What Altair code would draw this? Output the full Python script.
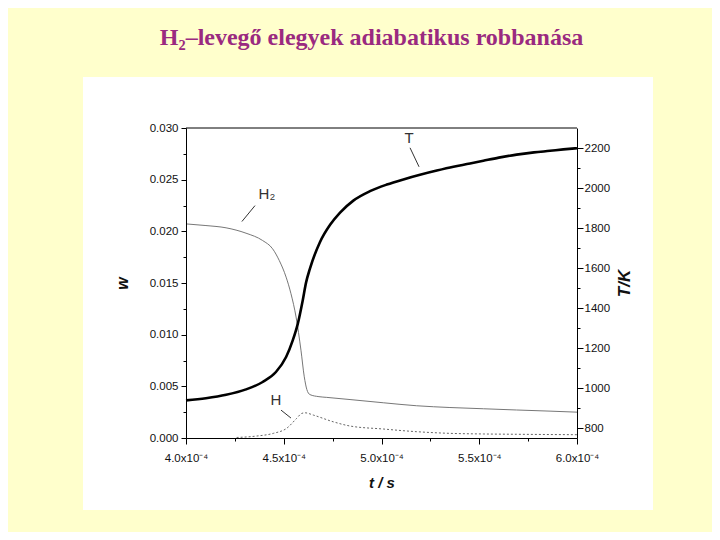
import altair as alt
import pandas as pd

# ---- data (t in units of 1e-4 s) ----
t_T = [4.000, 4.102, 4.205, 4.307, 4.392, 4.460, 4.512, 4.546, 4.572, 4.597, 4.614, 4.634,
       4.685, 4.737, 4.788, 4.856, 4.941, 5.027, 5.112, 5.197, 5.283, 5.368, 5.453, 5.521,
       5.600, 5.691, 5.780, 5.862, 5.930, 6.000]
T_K = [938, 949, 966, 993, 1030, 1080, 1155, 1238, 1322, 1438, 1527, 1597,
       1729, 1816, 1877, 1937, 1984, 2017, 2043, 2066, 2087, 2106, 2122, 2136,
       2152, 2167, 2178, 2186, 2193, 2199]

t_H2 = [4.000, 4.102, 4.205, 4.307, 4.392, 4.443, 4.477, 4.512, 4.537, 4.563, 4.588, 4.605,
        4.618, 4.634, 4.680, 4.720, 4.839, 5.009, 5.180, 5.350, 5.521, 5.691, 5.862, 6.000]
w_H2 = [0.02072, 0.02056, 0.02034, 0.01982, 0.01911, 0.01831, 0.01718, 0.01557, 0.01396,
        0.01171, 0.00850, 0.00592, 0.00470, 0.00420, 0.00400, 0.00393, 0.00372, 0.00341,
        0.00312, 0.00295, 0.00283, 0.00271, 0.00260, 0.00250]

t_H = [4.259, 4.362, 4.447, 4.515, 4.566, 4.592, 4.609, 4.651, 4.753, 4.839, 5.009, 5.180,
       5.350, 5.521, 5.691, 6.000]
w_H = [0.00005, 0.00019, 0.00045, 0.00094, 0.00190, 0.00238, 0.00244, 0.00222, 0.00157,
       0.00116, 0.00087, 0.00061, 0.00045, 0.00039, 0.00036, 0.00032]

# annotations
lab_w_text = ["H₂", "H"]
lab_w_t = [4.414, 4.460]
lab_w_w = [0.02365, 0.00367]
arr_w_t1 = [4.353, 4.486]
arr_w_w1 = [0.02249, 0.00270]
arr_w_t2 = [4.286, 4.537]
arr_w_w2 = [0.02095, 0.00193]

lab_T_text = ["T"]
lab_T_t = [5.141]
lab_T_T = [2251]
arr_T_t1 = [5.146]
arr_T_T1 = [2201]
arr_T_t2 = [5.192]
arr_T_T2 = [2106]

x_ticks = [4.0 + 0.25 * i for i in range(9)]
w_ticks = [0.0025 * i for i in range(13)]
T_ticks = list(range(800, 2201, 100))

TITLE = "H₂–levegő elegyek adiabatikus robbanása"
FONT = "Liberation Sans"

df_T = pd.DataFrame({"t": t_T, "T": T_K})
df_H2 = pd.DataFrame({"t": t_H2, "w": w_H2})
df_H = pd.DataFrame({"t": t_H, "w": w_H})
df_lw = pd.DataFrame({"t": lab_w_t, "w": lab_w_w, "txt": lab_w_text})
df_aw = pd.DataFrame({"t": arr_w_t1, "w": arr_w_w1, "t2": arr_w_t2, "w2": arr_w_w2})
df_lT = pd.DataFrame({"t": lab_T_t, "T": lab_T_T, "txt": lab_T_text})
df_aT = pd.DataFrame({"t": arr_T_t1, "T": arr_T_T1, "t2": arr_T_t2, "T2": arr_T_T2})

x_axis = alt.Axis(
    values=x_ticks,
    labelExpr="(datum.value*4) % 2 == 0 ? format(datum.value, '.1f') + 'x10⁻⁴' : ''",
    tickSize={"condition": {"test": "(datum.value*4) % 2 == 1", "value": 3}, "value": 6},
    labelFont=FONT, labelFontSize=11.5, labelColor="#111", labelPadding=8,
    title="t / s", titleFont=FONT, titleFontSize=15, titleFontStyle="italic",
    titleFontWeight="bold", titleColor="#111", titlePadding=12,
    domainColor="black", tickColor="black", grid=False, labelFlush=False, zindex=2,
)
x_enc = alt.X("t:Q", scale=alt.Scale(domain=[4.0, 6.0], nice=False, zero=False), axis=x_axis)

w_axis = alt.Axis(
    values=w_ticks,
    labelExpr="round(datum.value*400) % 2 == 0 ? format(datum.value, '.3f') : ''",
    tickSize={"condition": {"test": "round(datum.value*400) % 2 == 1", "value": 3}, "value": 5},
    labelFont=FONT, labelFontSize=11.5, labelColor="#111", labelPadding=3,
    title="w", titleFont=FONT, titleFontSize=16, titleFontStyle="italic",
    titleFontWeight="bold", titleColor="#111", titlePadding=19, titleAngle=270,
    domainColor="black", tickColor="black", grid=False, orient="left", zindex=2,
)
w_scale = alt.Scale(domain=[0.0, 0.030], nice=False, zero=False)

T_axis = alt.Axis(
    values=T_ticks,
    labelExpr="datum.value % 200 == 0 ? format(datum.value, 'd') : ''",
    tickSize={"condition": {"test": "datum.value % 200 != 0", "value": 3}, "value": 6},
    labelFont=FONT, labelFontSize=11.5, labelColor="#111", labelPadding=1,
    title="T/K", titleFont=FONT, titleFontSize=17, titleFontStyle="italic",
    titleFontWeight="bold", titleColor="#111", titlePadding=24, titleAngle=270,
    domainColor="black", tickColor="black", grid=False, orient="right", zindex=2,
)
T_scale = alt.Scale(domain=[750, 2300], nice=False, zero=False)

one = pd.DataFrame({"a": [0]})
panel = alt.Chart(one).mark_rect(color="white").encode(
    x=alt.value(-103), x2=alt.value(467), y=alt.value(-51), y2=alt.value(382)
)
top_border = alt.Chart(one).mark_rule(color="black", strokeWidth=1).encode(
    x=alt.value(0), x2=alt.value(391), y=alt.value(0)
)

h2_line = alt.Chart(df_H2).mark_line(color="#777777", strokeWidth=1, interpolate="monotone").encode(
    x=x_enc, y=alt.Y("w:Q", scale=w_scale, axis=w_axis)
)
h_line = alt.Chart(df_H).mark_line(color="#666666", strokeWidth=1, strokeDash=[2, 2],
                                   interpolate="monotone").encode(
    x=x_enc, y=alt.Y("w:Q", scale=w_scale, axis=w_axis)
)
w_text = alt.Chart(df_lw).mark_text(font=FONT, fontSize=15, color="#333333").encode(
    x=x_enc, y=alt.Y("w:Q", scale=w_scale, axis=w_axis), text="txt:N"
)
w_arrow = alt.Chart(df_aw).mark_rule(color="#333333", strokeWidth=1).encode(
    x=x_enc, y=alt.Y("w:Q", scale=w_scale, axis=w_axis), x2="t2:Q", y2="w2:Q"
)
left = alt.layer(h2_line, h_line, w_arrow, w_text)

T_line = alt.Chart(df_T).mark_line(color="black", strokeWidth=2.6, interpolate="monotone").encode(
    x=x_enc, y=alt.Y("T:Q", scale=T_scale, axis=T_axis)
)
T_text = alt.Chart(df_lT).mark_text(font=FONT, fontSize=15, color="#333333").encode(
    x=x_enc, y=alt.Y("T:Q", scale=T_scale, axis=T_axis), text="txt:N"
)
T_arrow = alt.Chart(df_aT).mark_rule(color="#333333", strokeWidth=1).encode(
    x=x_enc, y=alt.Y("T:Q", scale=T_scale, axis=T_axis), x2="t2:Q", y2="T2:Q"
)
right = alt.layer(T_line, T_arrow, T_text)

chart = alt.layer(panel, top_border, left, right).resolve_scale(y="independent").properties(
    width=391, height=310,
    autosize=alt.AutoSizeParams(type="none"),
    padding={"left": 178, "top": 120, "right": 135, "bottom": 94},
    background="#FFFFCC",
    title=alt.Title(TITLE, font="Liberation Serif", fontSize=24, fontWeight="bold",
                    color="#9A2A80", anchor="middle", offset=27, dx=-10),
).configure_view(stroke=None)

chart.save("out.html", embed_options={"renderer": "svg", "actions": False})
